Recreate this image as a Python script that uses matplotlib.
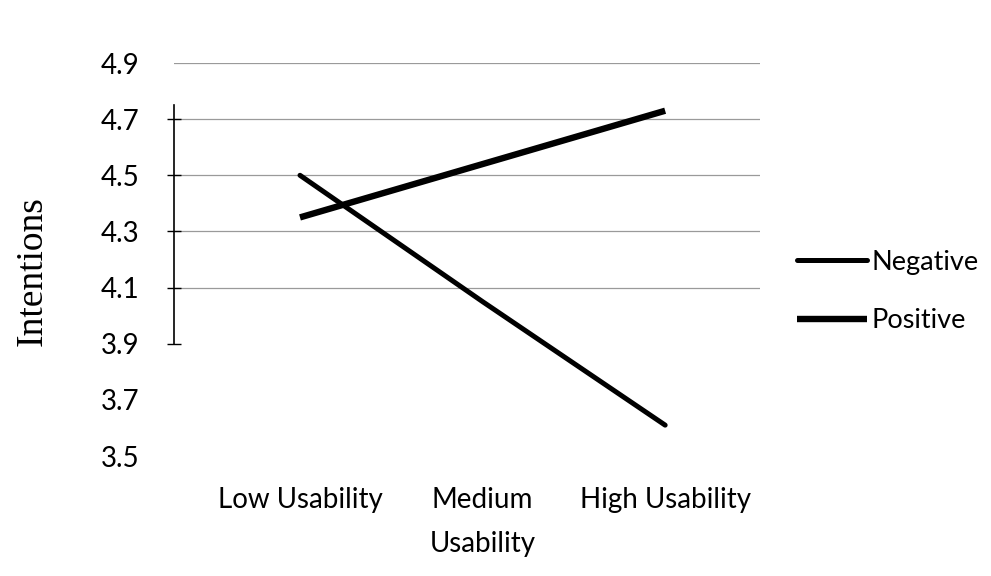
import matplotlib
matplotlib.use("Agg")
import matplotlib.pyplot as plt

# category labels and the two intention series
usability = ["Low Usability", "Medium\nUsability", "High Usability"]
negative = [4.50, 4.05, 3.61]
positive = [4.35, 4.54, 4.73]
y_ticks = [3.5, 3.7, 3.9, 4.1, 4.3, 4.5, 4.7, 4.9]

plt.rcParams["font.family"] = ["Lato", "DejaVu Sans"]

fig = plt.figure(figsize=(9.91, 5.76), dpi=100)
ax = fig.add_axes([0.1756, 0.2083, 0.5914, 0.6823])

x = list(range(len(usability)))
ax.plot(x, negative, color="black", lw=3.6, solid_capstyle="round", label="Negative")
ax.plot(x, positive, color="black", lw=4.6, solid_capstyle="butt", label="Positive")

ax.set_xlim(-0.69, 2.52)
ax.set_ylim(3.5, 4.9)
ax.set_yticks(y_ticks)
ax.set_yticklabels([f"{v:.1f}" for v in y_ticks])
ax.set_xticks(x)
ax.set_xticklabels(usability)

ax.tick_params(axis="x", length=0, pad=22, labelsize=20)
ax.tick_params(axis="y", direction="inout", length=10, width=1, pad=20, labelsize=20)
for lbl in ax.get_xticklabels():
    lbl.set_linespacing(1.9)
    lbl.set_verticalalignment("top")

# light horizontal gridlines, faded out at the low end
ax.grid(axis="y", color="#9a9a9a", lw=0.9)
ax.set_axisbelow(True)
for tick in ax.yaxis.get_major_ticks():
    if tick.get_loc() < 4.0:
        tick.gridline.set_visible(False)
    if tick.get_loc() < 3.8 or tick.get_loc() > 4.8:
        tick.tick1line.set_visible(False)

for side in ["top", "right", "bottom"]:
    ax.spines[side].set_visible(False)
ax.spines["left"].set_bounds(3.9, 4.75)
ax.spines["left"].set_linewidth(1.2)

ax.set_ylabel("Intentions", family=["Liberation Serif", "DejaVu Serif"], fontsize=27)
ax.yaxis.set_label_coords(-0.212, 0.47)

fig.legend(loc="center left", bbox_to_anchor=(0.804, 0.494), frameon=False,
           fontsize=19.5, handlelength=2.6, handletextpad=0.15, labelspacing=1.25,
           borderpad=0, borderaxespad=0)

fig.savefig("out.png", dpi=100)
